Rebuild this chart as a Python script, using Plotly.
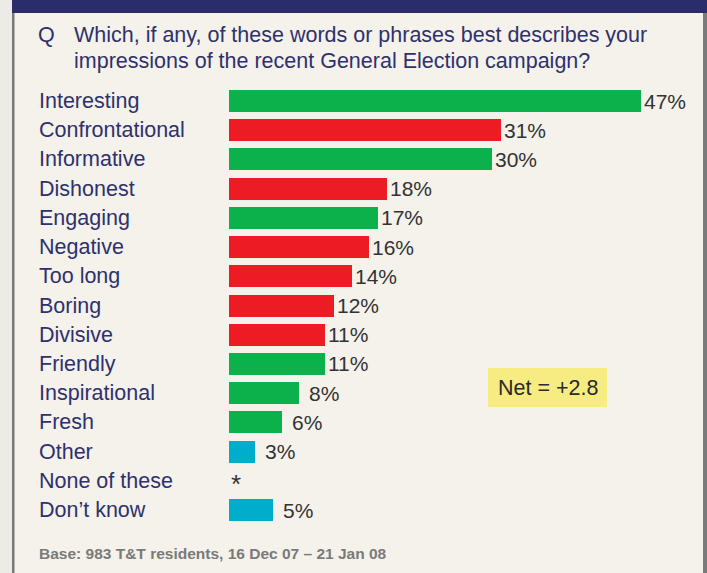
import plotly.graph_objects as go

# ---- data ----
categories = ["Interesting", "Confrontational", "Informative", "Dishonest", "Engaging",
              "Negative", "Too long", "Boring", "Divisive", "Friendly", "Inspirational",
              "Fresh", "Other", "None of these", "Don\u2019t know"]
values = [47, 31, 30, 18, 17, 16, 14, 12, 11, 11, 8, 6, 3, 0, 5]
value_labels = ["47%", "31%", "30%", "18%", "17%", "16%", "14%", "12%", "11%", "11%",
                "8%", "6%", "3%", "*", "5%"]
tone = ["pos", "neg", "pos", "neg", "pos", "neg", "neg", "neg", "neg", "pos",
        "pos", "pos", "other", "other", "other"]
question_lines = ["Which, if any, of these words or phrases best describes your",
                  "impressions of the recent General Election campaign?"]
net_text = "Net = +2.8"
base_text = "Base: 983 T&T residents, 16 Dec 07 \u2013 21 Jan 08"

# ---- styles ----
W, H = 707, 573
NAVY = "#2e316d"
BG = "#f4f2ea"
tone_colors = {"pos": "#0db14b", "neg": "#ed1c24", "other": "#00aecb"}
bar_colors = [tone_colors[t] for t in tone]
FONT = "Liberation Sans, Arial, Helvetica, sans-serif"
TXT = 21.5

x0_px, x47_px = 229, 641
px_per_unit = (x47_px - x0_px) / 47.0
row0_px, rowN_px = 101, 510
row_h = (rowN_px - row0_px) / (len(categories) - 1)

def px(x):
    return x / W

def py(y):
    return 1 - y / H

fig = go.Figure()
fig.add_trace(go.Bar(
    x=values, y=categories, orientation="h",
    marker=dict(color=bar_colors, line=dict(width=0)),
    width=22 / row_h, hoverinfo="skip",
))

annotations = []
for c in categories:
    annotations.append(dict(x=px(36.5), xref="paper", y=c, yref="y", text=c,
                            showarrow=False, xanchor="left", yanchor="middle",
                            font=dict(family=FONT, size=TXT, color=NAVY)))
for c, v, lab in zip(categories, values, value_labels):
    if lab == "*":
        shift, size, yshift = 0, 26, -3
    elif v < 10:
        shift, size, yshift = 8, 21, 0
    else:
        shift, size, yshift = 1, 21, 0
    annotations.append(dict(x=v, xref="x", y=c, yref="y", text=lab, xshift=shift, yshift=yshift,
                            showarrow=False, xanchor="left", yanchor="middle",
                            font=dict(family=FONT, size=size, color="#333333")))
annotations.append(dict(x=px(35.5), y=py(35), xref="paper", yref="paper", text="Q",
                        showarrow=False, xanchor="left", yanchor="middle",
                        font=dict(family=FONT, size=TXT, color=NAVY)))
for i, line in enumerate(question_lines):
    annotations.append(dict(x=px(72), y=py(35 + i * 26.3), xref="paper", yref="paper", text=line,
                            showarrow=False, xanchor="left", yanchor="middle",
                            font=dict(family=FONT, size=TXT, color=NAVY)))
annotations.append(dict(x=px(547.5), y=py(388), xref="paper", yref="paper", text=net_text,
                        showarrow=False, xanchor="center", yanchor="middle",
                        font=dict(family=FONT, size=21.5, color="#2a2a2a")))
annotations.append(dict(x=px(37), y=py(553), xref="paper", yref="paper", text="<b>" + base_text + "</b>",
                        showarrow=False, xanchor="left", yanchor="middle",
                        font=dict(family=FONT, size=15.5, color="#7a7a7a")))

shapes = [
    dict(type="rect", xref="paper", yref="paper", x0=0, x1=px(12), y0=0, y1=1,
         fillcolor="#edebe5", line=dict(width=0), layer="below"),
    dict(type="rect", xref="paper", yref="paper", x0=px(12), x1=px(14.5), y0=0, y1=1,
         fillcolor="#7a7a7a", line=dict(width=0), layer="below"),
    dict(type="rect", xref="paper", yref="paper", x0=px(703), x1=1, y0=0, y1=1,
         fillcolor="#7a7a7a", line=dict(width=0), layer="below"),
    dict(type="rect", xref="paper", yref="paper", x0=px(12), x1=1, y0=py(13), y1=1,
         fillcolor="#2b2d6b", line=dict(width=0), layer="below"),
    dict(type="rect", xref="paper", yref="paper", x0=px(488), x1=px(607), y0=py(407), y1=py(368),
         fillcolor="#f7ec82", line=dict(width=0), layer="below"),
]

y_top = -row0_px / row_h
y_bot = (H - row0_px) / row_h

fig.update_layout(
    width=W, height=H, margin=dict(l=0, r=0, t=0, b=0),
    paper_bgcolor=BG, plot_bgcolor="rgba(0,0,0,0)",
    showlegend=False, bargap=0,
    xaxis=dict(domain=[px(x0_px), 1], range=[0, (W - x0_px) / px_per_unit],
               visible=False, fixedrange=True),
    yaxis=dict(domain=[0, 1], type="category", categoryorder="array", categoryarray=categories,
               range=[y_bot, y_top], visible=False, fixedrange=True),
    annotations=annotations, shapes=shapes,
)

fig.write_html("out.html", config={"displayModeBar": False})
